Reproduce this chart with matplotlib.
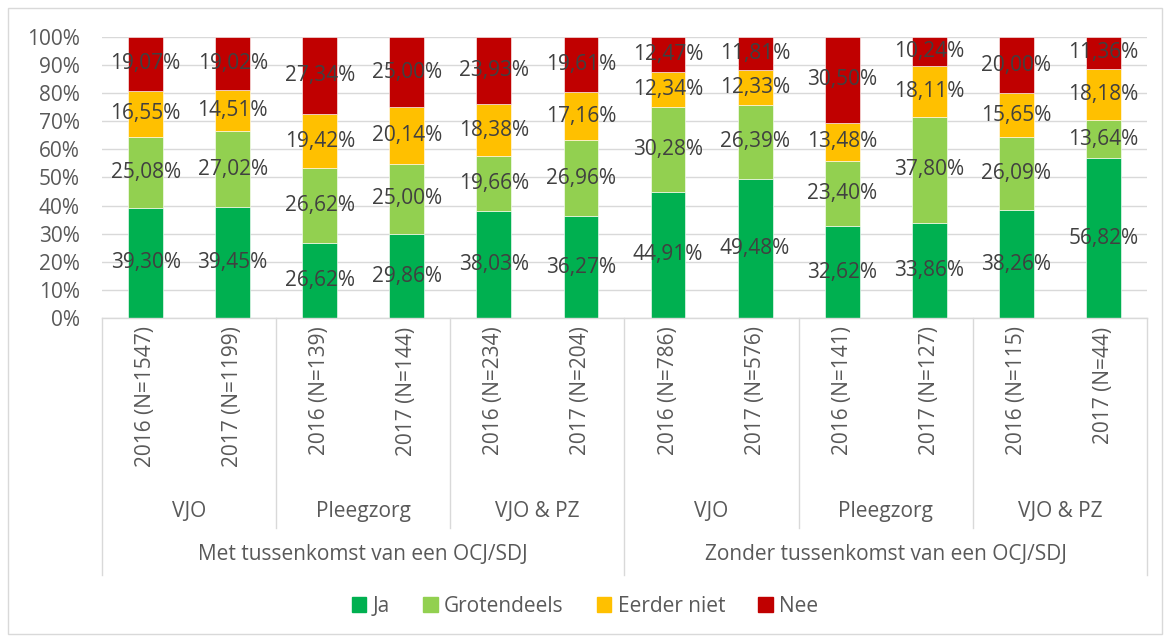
import numpy as np
import matplotlib.pyplot as plt
from matplotlib.patches import Patch, Rectangle

plt.rcParams['font.family'] = ['Open Sans', 'DejaVu Sans']

# %%
# Data: share of answers per year, sector and intervention type
years = ['2016 (N=1547)', '2017 (N=1199)', '2016 (N=139)', '2017 (N=144)',
         '2016 (N=234)', '2017 (N=204)', '2016 (N=786)', '2017 (N=576)',
         '2016 (N=141)', '2017 (N=127)', '2016 (N=115)', '2017 (N=44)']
sectors = ['VJO', 'Pleegzorg', 'VJO & PZ', 'VJO', 'Pleegzorg', 'VJO & PZ']
groups = ['Met tussenkomst van een OCJ/SDJ', 'Zonder tussenkomst van een OCJ/SDJ']

ja = [39.30, 39.45, 26.62, 29.86, 38.03, 36.27, 44.91, 49.48, 32.62, 33.86, 38.26, 56.82]
grotendeels = [25.08, 27.02, 26.62, 25.00, 19.66, 26.96, 30.28, 26.39, 23.40, 37.80, 26.09, 13.64]
eerder_niet = [16.55, 14.51, 19.42, 20.14, 18.38, 17.16, 12.34, 12.33, 13.48, 18.11, 15.65, 18.18]
nee = [19.07, 19.02, 27.34, 25.00, 23.93, 19.61, 12.47, 11.81, 30.50, 10.24, 20.00, 11.36]

series = [('Ja', ja, '#00B050'),
          ('Grotendeels', grotendeels, '#92D050'),
          ('Eerder niet', eerder_niet, '#FFC000'),
          ('Nee', nee, '#C00000')]

txt = '#595959'
lab = '#404040'
line = '#D9D9D9'
fs = 15

fig = plt.figure(figsize=(11.7, 6.42), dpi=100)
fig.patches.append(Rectangle((0.007, 0.012), 0.986, 0.975, transform=fig.transFigure,
                             fill=False, edgecolor=line, linewidth=1))
ax = fig.add_axes([0.0872, 0.5047, 0.8931, 0.4377])

x = np.arange(len(years))
bottom = np.zeros(len(years))
for name, vals, color in series:
    vals = np.array(vals)
    ax.bar(x, vals, 0.4, bottom=bottom, color=color, edgecolor='white',
           linewidth=0.4, label=name, zorder=2)
    for xi, b, v in zip(x, bottom, vals):
        ax.text(xi, b + v / 2, f'{v:.2f}%'.replace('.', ','), ha='center',
                va='center', fontsize=fs, color=lab, zorder=3)
    bottom += vals

ax.set_xlim(-0.5, len(years) - 0.5)
ax.set_ylim(0, 100)
ax.set_yticks(np.arange(0, 101, 10))
ax.set_yticklabels([f'{v}%' for v in range(0, 101, 10)])
ax.tick_params(axis='y', length=0, pad=16, labelsize=fs, labelcolor=txt)
ax.set_xticks([])
ax.grid(axis='y', color=line, linewidth=1, zorder=0)
for s in ax.spines.values():
    s.set_visible(False)

# multi-level category axis
tr = ax.get_xaxis_transform()
ax.plot([-0.5, 11.5], [0, 0], color=line, lw=1, transform=tr, clip_on=False)
for b in [-0.5, 5.5, 11.5]:
    ax.plot([b, b], [0, -0.915], color=line, lw=1, transform=tr, clip_on=False)
for b in [1.5, 3.5, 7.5, 9.5]:
    ax.plot([b, b], [0, -0.747], color=line, lw=1, transform=tr, clip_on=False)

for xi, label in zip(x, years):
    ax.text(xi, -0.03, label, rotation=90, ha='center', va='top',
            fontsize=fs, color=txt, transform=tr)
for i, label in enumerate(sectors):
    ax.text(2 * i + 0.5, -0.69, label, ha='center', va='center',
            fontsize=fs, color=txt, transform=tr)
for i, label in enumerate(groups):
    ax.text(6 * i + 2.5, -0.843, label, ha='center', va='center',
            fontsize=fs, color=txt, transform=tr)

handles = [Patch(color=c, label=n) for n, _, c in series]
fig.legend(handles=handles, loc='center', bbox_to_anchor=(0.5, 0.056), ncol=4,
           frameon=False, fontsize=fs, labelcolor=txt, handlelength=0.7,
           handleheight=0.7, handletextpad=0.3, columnspacing=1.6)

fig.savefig('out.png', dpi=100)
